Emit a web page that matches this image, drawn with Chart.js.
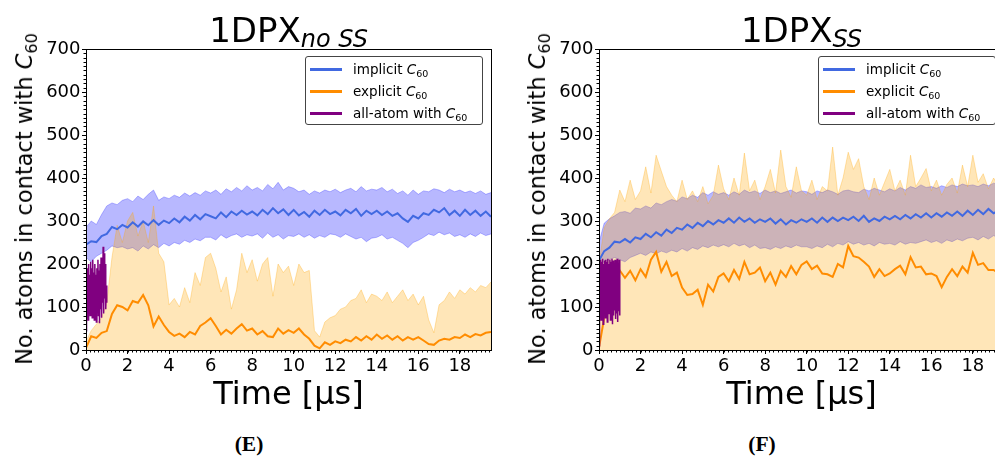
<!DOCTYPE html>
<html>
<head>
<meta charset="utf-8">
<script src="https://cdn.jsdelivr.net/npm/chart.js@4/dist/chart.umd.min.js"></script>
<style>
  body { margin: 0; width: 995px; height: 459px; overflow: hidden; background: #fff; position: relative; font-family: 'DejaVu Sans', sans-serif; color: #000; }
  canvas { position: absolute; top: 0; }
  .title { position: absolute; top: 13px; font-size: 34px; line-height: 34px; text-align: center; white-space: nowrap; }
  .title .sub { font-size: 24px; font-style: italic; position: relative; top: 5px; }
  .xlab { position: absolute; top: 377px; font-size: 32px; line-height: 32px; text-align: center; }
  .ylab { position: absolute; font-size: 22.5px; line-height: 24px; white-space: nowrap; transform: translate(-50%, -50%) rotate(-90deg); }
  .ylab sub { font-size: 16px; vertical-align: -5px; line-height: 0; }
  .legend { position: absolute; top: 56px; width: 176px; height: 66px; padding-top: 1px; border: 1px solid #444; border-radius: 3px; background: rgba(255,255,255,0.85); font-size: 13.5px; }
  .legend .row { position: relative; height: 22px; line-height: 22px; padding-left: 47px; white-space: nowrap; }
  .legend .sw { position: absolute; left: 4px; top: 10px; width: 32px; height: 2.5px; }
  .legend sub { font-size: 9.5px; vertical-align: -3px; line-height: 0; }
  .tag { position: absolute; top: 434px; font-family: 'Liberation Serif', serif; font-weight: bold; font-size: 21.5px; line-height: 21px; transform: translateX(-50%); }
</style>
</head>
<body>
<canvas id="left" width="500" height="380" style="left:0"></canvas>
<canvas id="right" width="515" height="380" style="left:500px"></canvas>

<div class="title" style="left:86px;width:405px">1DPX<span class="sub">no SS</span></div>
<div class="title" style="left:599px;width:405px">1DPX<span class="sub">SS</span></div>

<div class="ylab" style="left:24px;top:199px">No. atoms in contact with <i>C</i><sub>60</sub></div>
<div class="ylab" style="left:537px;top:199px">No. atoms in contact with <i>C</i><sub>60</sub></div>

<div class="xlab" style="left:86px;width:405px">Time [µs]</div>
<div class="xlab" style="left:599px;width:405px">Time [µs]</div>

<div class="legend" style="left:305px">
  <div class="row"><span class="sw" style="background:#4169e1"></span>implicit <i>C</i><sub>60</sub></div>
  <div class="row"><span class="sw" style="background:#ff8c00"></span>explicit <i>C</i><sub>60</sub></div>
  <div class="row"><span class="sw" style="background:#800080"></span>all-atom with <i>C</i><sub>60</sub></div>
</div>
<div class="legend" style="left:818px">
  <div class="row"><span class="sw" style="background:#4169e1"></span>implicit <i>C</i><sub>60</sub></div>
  <div class="row"><span class="sw" style="background:#ff8c00"></span>explicit <i>C</i><sub>60</sub></div>
  <div class="row"><span class="sw" style="background:#800080"></span>all-atom with <i>C</i><sub>60</sub></div>
</div>

<div class="tag" style="left:249px">(E)</div>
<div class="tag" style="left:762px">(F)</div>

<script>
// time axis [µs], sampled every 0.25 µs
const time = [0,0.25,0.5,0.75,1,1.25,1.5,1.75,2,2.25,2.5,2.75,3,3.25,3.5,3.75,4,4.25,4.5,4.75,5,5.25,5.5,5.75,6,6.25,6.5,6.75,7,7.25,7.5,7.75,8,8.25,8.5,8.75,9,9.25,9.5,9.75,10,10.25,10.5,10.75,11,11.25,11.5,11.75,12,12.25,12.5,12.75,13,13.25,13.5,13.75,14,14.25,14.5,14.75,15,15.25,15.5,15.75,16,16.25,16.5,16.75,17,17.25,17.5,17.75,18,18.25,18.5,18.75,19,19.25,19.5];

// all-atom run only covers the first microsecond
const aaTime = [0,0.025,0.05,0.075,0.1,0.125,0.15,0.175,0.2,0.225,0.25,0.275,0.3,0.325,0.35,0.375,0.4,0.425,0.45,0.475,0.5,0.525,0.55,0.575,0.6,0.625,0.65,0.675,0.7,0.725,0.75,0.775,0.8,0.825,0.85,0.875,0.9,0.925,0.95,0.975,1];

// ---- 1DPX no SS (E) ----
const noSsImplicit = [
  245,253,251,265,270,286,281,291,
  285,297,287,299,290,302,291,301,
  295,306,297,310,301,314,304,316,
  311,306,320,309,322,314,324,315,
  322,313,326,316,330,318,327,314,
  326,313,321,310,324,314,326,316,
  322,313,326,318,328,312,324,316,
  324,314,322,312,318,306,298,312,
  306,318,314,326,320,330,314,324,
  312,326,314,324,312,322,310];
const noSsImplicitHi = [
  285,300,292,315,335,342,338,348,
  352,345,358,350,362,372,348,356,
  352,360,355,365,358,366,360,370,
  365,372,362,375,368,378,370,382,
  372,378,370,385,375,390,372,380,
  376,368,372,362,370,365,372,368,
  374,366,372,376,368,380,370,374,
  372,378,368,374,364,370,360,372,
  362,370,368,375,372,366,374,368,
  372,366,370,364,370,362,366];
const noSsImplicitLo = [
  215,205,218,225,232,242,238,240,
  235,238,230,242,235,245,238,248,
  242,250,246,255,250,258,254,262,
  262,256,268,260,266,270,262,268,
  265,270,260,272,262,268,258,266,
  264,270,262,268,260,266,262,270,
  268,262,270,264,258,262,252,260,
  262,268,258,262,255,248,238,250,
  255,262,270,266,274,268,272,264,
  268,262,270,264,272,266,270];
const noSsExplicit = [
  5,32,28,40,44,84,104,100,
  92,114,110,128,104,55,78,58,
  42,33,38,30,42,36,56,64,
  74,56,36,47,38,50,60,45,
  50,36,44,32,30,50,38,46,
  40,50,36,26,10,4,18,12,
  20,16,24,20,30,22,32,24,
  36,26,34,24,32,22,30,24,
  30,22,14,12,22,26,24,30,
  28,36,30,37,34,40,42];
const noSsExplicitHi = [
  20,45,60,75,110,215,290,250,
  300,320,265,300,250,335,225,205,
  105,120,100,145,110,180,150,215,
  225,190,135,170,95,140,225,180,
  210,160,200,215,125,200,180,195,
  150,200,180,185,45,30,65,75,
  80,95,100,115,120,140,110,130,
  125,115,135,110,125,140,115,130,
  105,125,70,40,105,115,135,120,
  140,130,145,135,150,145,158];
const noSsAllAtom = [45,150,90,190,70,200,100,175,80,205,110,190,75,210,95,180,70,200,120,175,65,190,100,210,80,185,62,200,95,215,75,190,110,240,85,225,120,200,95,150,110];

// ---- 1DPX SS (F) ----
const ssImplicit = [
  208,230,238,252,250,258,250,262,
  258,270,262,274,266,280,272,284,
  280,292,284,296,288,300,292,302,
  296,306,296,308,298,306,296,304,
  298,306,294,304,292,302,296,304,
  298,306,296,308,298,308,300,308,
  302,310,300,312,298,306,300,310,
  304,312,304,314,306,316,308,318,
  308,318,310,320,312,322,312,324,
  314,326,316,328,318,324,320];
const ssImplicitHi = [
  250,295,305,312,320,322,318,330,
  328,335,330,342,338,345,350,346,
  356,352,360,355,366,360,368,362,
  366,360,368,362,372,366,370,364,
  372,366,370,364,368,372,365,370,
  368,362,370,366,372,368,362,370,
  372,368,366,374,370,376,372,368,
  375,370,378,372,380,376,384,378,
  380,376,382,378,384,380,386,382,
  384,380,386,382,388,384,386];
const ssImplicitLo = [
  200,205,210,215,210,205,215,220,
  225,220,228,224,230,226,232,228,
  236,230,238,234,242,238,244,240,
  245,240,248,242,246,238,244,236,
  238,234,240,236,242,238,244,240,
  240,236,242,238,246,240,248,244,
  252,246,250,244,248,242,250,246,
  248,244,252,246,250,248,252,256,
  250,254,248,256,252,258,254,260,
  262,256,264,258,266,260,268];
const ssExplicit = [
  5,75,115,165,185,168,184,162,
  188,170,210,228,182,205,172,180,
  145,128,130,140,105,152,136,170,
  178,160,186,165,205,176,180,192,
  160,180,152,184,170,195,176,198,
  206,188,196,178,176,170,200,192,
  242,218,215,205,194,170,188,172,
  178,188,196,176,216,192,194,176,
  178,172,146,170,188,172,194,180,
  226,198,202,186,186,178,176];
const ssExplicitHi = [
  200,285,305,320,372,345,395,350,
  370,426,365,453,416,380,360,345,
  395,350,370,345,380,340,360,430,
  375,350,400,360,458,370,395,350,
  380,420,365,465,380,355,426,370,
  360,395,350,380,370,472,360,400,
  460,420,445,380,350,400,360,390,
  420,370,395,360,453,380,400,422,
  370,395,360,385,400,365,430,380,
  453,390,410,375,400,380,395];
const ssAllAtom = [10,200,85,210,70,205,95,212,60,200,90,208,75,210,100,205,65,212,85,200,95,210,70,205,88,212,60,208,80,200,92,210,72,206,85,212,65,200,90,210,80];

const pts = (xs, ys) => ys.map((v, i) => ({ x: xs[i], y: v }));

// box round the axes plus the dense minor ticks
const frame = {
  id: 'frame',
  afterDraw(chart) {
    const { ctx, chartArea: a } = chart;
    const sx = chart.scales.x, sy = chart.scales.y;
    ctx.save();
    ctx.strokeStyle = '#000';
    ctx.lineWidth = 1;
    ctx.beginPath();
    for (let v = 0; v <= 19.5001; v += 0.2) {
      const p = Math.round(sx.getPixelForValue(v)) + 0.5;
      ctx.moveTo(p, a.bottom);
      ctx.lineTo(p, a.bottom + 2.5);
    }
    for (let v = 0; v <= 700; v += 10) {
      const p = Math.round(sy.getPixelForValue(v)) + 0.5;
      ctx.moveTo(a.left, p);
      ctx.lineTo(a.left - 2.5, p);
    }
    ctx.stroke();
    ctx.strokeRect(Math.round(a.left) + 0.5, Math.round(a.top) + 0.5, Math.round(a.right - a.left), Math.round(a.bottom - a.top));
    ctx.restore();
  }
};

const tickFont = { family: "'DejaVu Sans', sans-serif", size: 18 };

function panel(id, yWidth, rightPad, d) {
  return new Chart(document.getElementById(id), {
    type: 'line',
    data: {
      datasets: [
        { data: pts(aaTime, d.aa), borderColor: '#800080', borderWidth: 1.5, order: 0 },
        { data: pts(time, d.exp), borderColor: '#ff8c00', borderWidth: 2, order: 1 },
        { data: pts(time, d.imp), borderColor: '#4169e1', borderWidth: 2, order: 2 },
        { data: pts(time, d.expHi), borderColor: 'rgba(255,165,0,0.3)', backgroundColor: 'rgba(255,165,0,0.28)', borderWidth: 1, fill: 'origin', order: 3 },
        { data: pts(time, d.impHi), borderColor: 'rgba(40,40,255,0.3)', backgroundColor: 'rgba(0,0,255,0.28)', borderWidth: 1, fill: '+1', order: 4 },
        { data: pts(time, d.impLo), borderColor: 'rgba(40,40,255,0.3)', borderWidth: 1, fill: false, order: 5 }
      ]
    },
    options: {
      responsive: false,
      animation: false,
      events: [],
      layout: { padding: { top: 49, right: rightPad, left: 0, bottom: 0 } },
      elements: { point: { radius: 0 }, line: { tension: 0 } },
      plugins: { legend: { display: false }, tooltip: { enabled: false } },
      scales: {
        x: {
          type: 'linear', min: 0, max: 19.5,
          afterFit: s => { s.height = 30; },
          border: { display: false },
          grid: { drawOnChartArea: false, tickLength: 4, tickColor: '#000' },
          ticks: { stepSize: 2, includeBounds: false, padding: 2, maxRotation: 0, autoSkip: false, color: '#000', font: tickFont }
        },
        y: {
          min: 0, max: 700,
          afterFit: s => { s.width = yWidth; },
          border: { display: false },
          grid: { drawOnChartArea: false, tickLength: 4, tickColor: '#000' },
          ticks: { stepSize: 100, padding: 1.5, color: '#000', font: tickFont }
        }
      }
    },
    plugins: [frame]
  });
}

panel('left', 86, 9, { imp: noSsImplicit, impHi: noSsImplicitHi, impLo: noSsImplicitLo, exp: noSsExplicit, expHi: noSsExplicitHi, aa: noSsAllAtom });
panel('right', 99, 11, { imp: ssImplicit, impHi: ssImplicitHi, impLo: ssImplicitLo, exp: ssExplicit, expHi: ssExplicitHi, aa: ssAllAtom });
</script>
</body>
</html>
